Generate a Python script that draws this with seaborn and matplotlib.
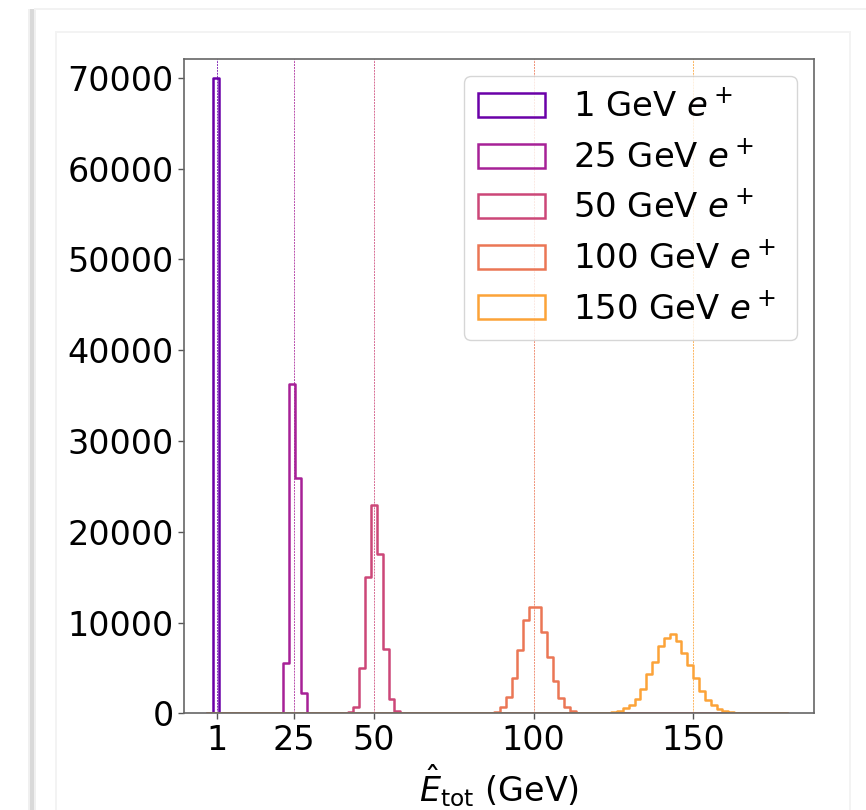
import numpy as np
import pandas as pd
import matplotlib
matplotlib.use("Agg")
import matplotlib.pyplot as plt
from matplotlib.patches import Patch, Rectangle
import seaborn as sns

# ---------------- data ----------------
energies = [1, 25, 50, 100, 150]                 # beam energies (GeV)
labels = [f"{e} GeV $e^+$ " for e in energies]
x_ticks = [1, 25, 50, 100, 150]
y_ticks = [0, 10000, 20000, 30000, 40000, 50000, 60000, 70000]

# common binning of the reconstructed energy
first_edge = -0.36
last_edge = 179.3
n_bins = 98

# counts per bin, and index of first listed bin
counts_1 = [70000]
start_1 = 0
counts_25 = [80, 5500, 36300, 25900, 2200]
start_25 = 11
counts_50 = [100, 660, 5030, 15000, 22900, 17580, 7120, 1620, 300]
start_50 = 23
counts_100 = [50, 180, 700, 1840, 3930, 7010, 10240, 11750, 11750, 9000,
              6200, 3560, 1650, 700, 220, 40]
start_100 = 47
counts_150 = [100, 260, 550, 920, 1540, 2640, 4300, 5690, 7420, 8260, 8700,
              7970, 6680, 5320, 3850, 2460, 1470, 880, 510, 260, 110, 40]
start_150 = 68

series_counts = [counts_1, counts_25, counts_50, counts_100, counts_150]
series_start = [start_1, start_25, start_50, start_100, start_150]

# ---------------- plot ----------------
sns.set_style("white")
plt.rcParams["font.family"] = ["DejaVu Sans"]
plt.rcParams["mathtext.fontset"] = "dejavusans"
for k in ["text.color", "axes.labelcolor", "xtick.color", "ytick.color"]:
    plt.rcParams[k] = "black"

W, H = 866, 810
fig = plt.figure(figsize=(W / 100, H / 100), dpi=100)
fig.patch.set_facecolor("white")

# notebook-like frame decorations
def px_rect(x, y, w, h, **kw):
    fig.add_artist(Rectangle((x / W, 1 - (y + h) / H), w / W, h / H,
                             transform=fig.transFigure, **kw))

px_rect(28, 9, 8, H - 9, facecolor="#f0f0f0", edgecolor="none")
px_rect(30, 9, 4, H - 9, facecolor="#d9d9d9", edgecolor="none")
px_rect(34, 8, W - 34, 2, facecolor="#f2f2f2", edgecolor="none")
px_rect(55, 31, 1.5, H - 31, facecolor="#f3f3f3", edgecolor="none")
px_rect(55, 31, 795, 1.5, facecolor="#f3f3f3", edgecolor="none")
px_rect(849, 31, 1.5, H - 31, facecolor="#f3f3f3", edgecolor="none")

ax_l, ax_r, ax_t, ax_b = 184.3, 814.0, 59.0, 713.3
ax = fig.add_axes([ax_l / W, 1 - ax_b / H, (ax_r - ax_l) / W, (ax_b - ax_t) / H])
ax.set_facecolor("white")

width = (last_edge - first_edge) / n_bins
edges = first_edge + width * np.arange(-1, n_bins + 1)   # one empty bin in front
centers = 0.5 * (edges[:-1] + edges[1:])
bin_list = [float(b) for b in edges]

cmap = matplotlib.colormaps["plasma"]
palette = [cmap(v) for v in [0.2, 0.37, 0.5, 0.66, 0.79]]

for e, lab, cnts, s, col in zip(energies, labels, series_counts, series_start, palette):
    df = pd.DataFrame({
        "E": centers[s + 1: s + 1 + len(cnts)],
        "n": cnts,
    })
    sns.histplot(data=df, x="E", weights="n", bins=bin_list, element="step",
                 fill=False, color=col, linewidth=1.8, ax=ax, legend=False)
    ax.axvline(e, color=col, lw=0.7, ls=(0, (2, 1)), alpha=0.8, zorder=0.5)

ax.set_xlim(-9.33, 187.8)
ax.set_ylim(0, 72060)
ax.set_xticks(x_ticks)
ax.set_xticklabels([str(t) for t in x_ticks])
ax.set_yticks(y_ticks)
ax.set_yticklabels([str(t) for t in y_ticks])
ax.tick_params(axis="both", labelsize=24, length=4, width=1, color="#555555",
               labelcolor="black", direction="out", bottom=True, left=True)
ax.set_ylabel("")
ax.set_xlabel(r"$\hat{E}_{\rm tot}$ (GeV)", fontsize=24, labelpad=4, color="black")
for sp in ax.spines.values():
    sp.set_visible(True)
    sp.set_color("#666666")
    sp.set_linewidth(1.2)

handles = [Patch(facecolor="none", edgecolor=c, linewidth=1.8) for c in palette]
leg = ax.legend(handles, labels, loc="upper right", fontsize=24.4, frameon=True,
                fancybox=True, framealpha=0.8, edgecolor="#cccccc",
                labelspacing=0.47)
for t in leg.get_texts():
    t.set_color("black")

fig.savefig("out.png", dpi=100, facecolor="white")
